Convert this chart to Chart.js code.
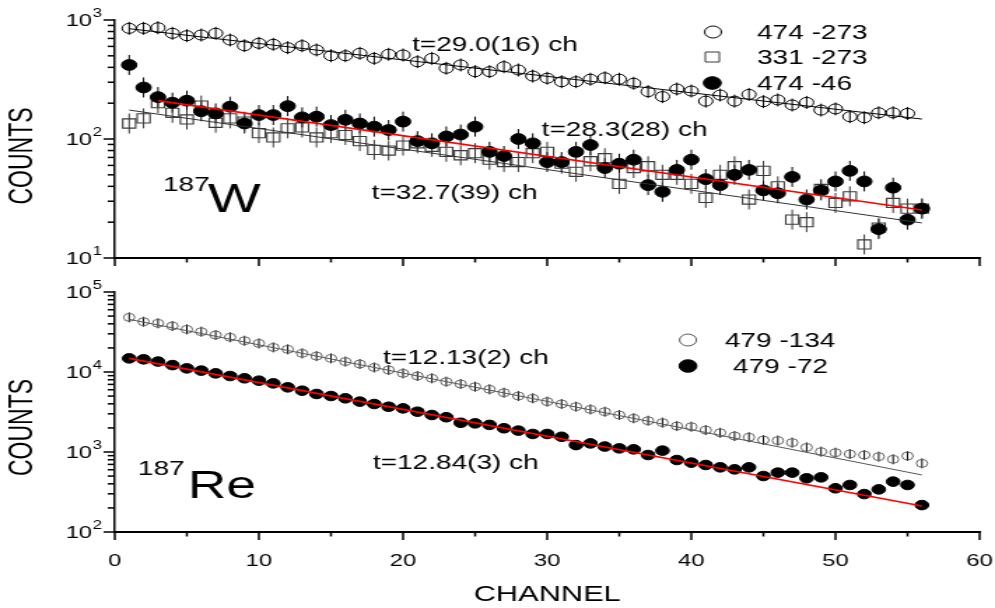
<!DOCTYPE html>
<html>
<head>
<meta charset="utf-8">
<script src="https://cdn.jsdelivr.net/npm/chart.js@4.4.1/dist/chart.umd.min.js"></script>
<style>
  html, body { margin: 0; padding: 0; background: #fff; }
  #wrap { position: relative; width: 995px; height: 608px; }
  canvas { position: absolute; left: 0; }
</style>
</head>
<body>
<div id="wrap">
  <canvas id="topChart" width="711" height="270" style="top:0;width:995px;height:270px"></canvas>
  <canvas id="botChart" width="711" height="338" style="top:270px;width:995px;height:338px"></canvas>
</div>
<script>
// channel numbers (x values)
const channels = [1, 2, 3, 4, 5, 6, 7, 8, 9, 10, 11, 12, 13, 14, 15, 16, 17, 18, 19, 20,
  21, 22, 23, 24, 25, 26, 27, 28, 29, 30, 31, 32, 33, 34, 35, 36, 37, 38, 39, 40,
  41, 42, 43, 44, 45, 46, 47, 48, 49, 50, 51, 52, 53, 54, 55, 56];

// 187W panel
const w474_273 = [851, 851, 861, 773, 738, 748, 773, 679, 608, 637, 625, 585, 608, 560, 501, 501, 525, 476, 515, 508,
  446, 476, 393, 419, 368, 368, 405, 380, 338, 324, 303, 303, 318, 327, 318, 294, 250, 227, 263, 253,
  208, 234, 208, 237, 206, 213, 193, 203, 175, 179, 154, 151, 166, 166, 164];
const w331_273 = [135, 149, 200, 166, 146, 191, 137, 149, 140, 112, 103, 123, 125, 103, 112, 108, 96, 81, 80, 88,
  92, 86, 78, 73, 76, 67, 64, 64, 76, 78, 62, 53, 65, 69, 42, 57, 59, 50, 50, 42,
  32, 50, 59, 31, 54, 40, 21, 20, 38, 29, 33, 13, 18, 29, 26, 26];
const w474_46 = [419, 271, 225, 202, 210, 171, 164, 187, 135, 159, 159, 189, 152, 154, 131, 145, 135, 127, 119, 140,
  96, 92, 105, 109, 127, 78, 72, 100, 92, 64, 64, 78, 89, 57, 62, 67, 41, 36, 55, 67,
  46, 41, 50, 55, 37, 35, 48, 31, 37, 44, 54, 44, 17.5, 39, 21, 26];

// 187Re panel
const re479_134 = [48200, 42500, 40600, 37600, 34100, 31900, 29000, 27200, 24600, 22800, 20300, 19200, 17100, 15800, 14800, 13500, 12600, 11400, 10600, 9620,
  8910, 8340, 7570, 7080, 6550, 6080, 5510, 5010, 4690, 4260, 3980, 3690, 3410, 3190, 2900, 2640, 2460, 2330, 2110, 2070,
  1880, 1740, 1585, 1530, 1410, 1390, 1310, 1140, 1010, 980, 944, 917, 875, 810, 891, 721];
const re479_72 = [14800, 14400, 13500, 12200, 11100, 10400, 9620, 8910, 8340, 7790, 7210, 6430, 5840, 5310, 5010, 4690, 4260, 3980, 3680, 3510,
  3190, 2900, 2720, 2320, 2280, 2180, 1980, 1850, 1680, 1680, 1550, 1220, 1280, 1170, 1110, 1080, 917, 1040, 794, 736,
  688, 643, 607, 643, 501, 552, 552, 469, 482, 352, 387, 298, 341, 426, 387, 217];

// fitted decay lines (end points)
const fitX = [1, 56];
const fitW474_273 = [845, 147];
const fitW331_273 = [175, 19.7];
const fitW474_46X = [3, 56];
const fitW474_46 = [210, 25.3];
const fitRe479_134 = [45500, 516];
const fitRe479_72 = [14800, 211];

// ticks
const xMajorTicks = [0, 10, 20, 30, 40, 50, 60];
const xMinorTicks = [5, 15, 25, 35, 45, 55];
const topDecades = [1, 2, 3];
const botDecades = [2, 3, 4, 5];
const minorMultiples = [2, 3, 4, 5, 6, 7, 8, 9];

const FONT = '"Liberation Sans", Arial, sans-serif';

const pts = (ys, xs) => ys.map((y, i) => ({x: (xs || channels)[i], y: y}));

const errorBars = {
  id: 'errorBars',
  beforeDatasetsDraw(chart) {
    const ctx = chart.ctx;
    chart.data.datasets.forEach((ds, i) => {
      if (!ds.errHalf) return;
      const meta = chart.getDatasetMeta(i);
      ctx.save();
      ctx.strokeStyle = ds.errColor || '#000';
      ctx.lineWidth = 1;
      meta.data.forEach(p => {
        ctx.beginPath();
        ctx.moveTo(p.x, p.y - ds.errHalf);
        ctx.lineTo(p.x, p.y + ds.errHalf);
        ctx.stroke();
      });
      ctx.restore();
    });
  }
};

function panelDeco(cfg) {
  return {
    id: 'panelDeco',
    afterDraw(chart) {
      const ctx = chart.ctx;
      const a = chart.chartArea;
      const xs = chart.scales.x, ys = chart.scales.y;
      ctx.save();
      ctx.strokeStyle = '#000';
      ctx.fillStyle = '#000';
      ctx.lineWidth = 1.5;
      const seg = (x1, y1, x2, y2) => { ctx.beginPath(); ctx.moveTo(x1, y1); ctx.lineTo(x2, y2); ctx.stroke(); };

      xMajorTicks.forEach(v => { const p = xs.getPixelForValue(v); seg(p, a.bottom, p, a.bottom + 8); });
      xMinorTicks.forEach(v => { const p = xs.getPixelForValue(v); seg(p, a.bottom, p, a.bottom + 4.5); });

      cfg.decades.forEach((e, k) => {
        const p = ys.getPixelForValue(Math.pow(10, e));
        seg(a.left - 8, p, a.left, p);
        if (k < cfg.decades.length - 1) {
          minorMultiples.forEach(m => {
            const q = ys.getPixelForValue(m * Math.pow(10, e));
            seg(a.left - 5, q, a.left, q);
          });
        }
        ctx.font = '12px ' + FONT;
        const ew = ctx.measureText(String(e)).width;
        const right = a.left - 9;
        ctx.textBaseline = 'middle';
        ctx.textAlign = 'left';
        ctx.fillText(String(e), right - ew, p - 6);
        ctx.font = '17px ' + FONT;
        ctx.textAlign = 'right';
        ctx.fillText('10', right - ew - 0.5, p + 1);
      });

      // axis title
      ctx.save();
      ctx.translate(cfg.yTitle.x, cfg.yTitle.y);
      ctx.rotate(-Math.PI / 2);
      ctx.font = '23px ' + FONT;
      ctx.textAlign = 'center';
      ctx.textBaseline = 'middle';
      ctx.fillText('COUNTS', 0, 0);
      ctx.restore();

      // half-life notes
      ctx.textAlign = 'left';
      ctx.textBaseline = 'middle';
      ctx.font = '20px ' + FONT;
      cfg.notes.forEach(n => ctx.fillText(n.text, n.x, n.y));

      // nuclide label
      const nu = cfg.nuclide;
      ctx.textBaseline = 'alphabetic';
      ctx.font = nu.supSize + 'px ' + FONT;
      ctx.fillText('187', nu.supX, nu.supBase);
      ctx.font = nu.size + 'px ' + FONT;
      ctx.fillText(nu.text, nu.x, nu.base);

      // legend
      ctx.textBaseline = 'middle';
      ctx.font = '20px ' + FONT;
      cfg.legend.forEach(l => {
        ctx.lineWidth = 1;
        ctx.strokeStyle = l.color || '#000';
        ctx.beginPath();
        if (l.shape === 'rect') {
          ctx.rect(l.mx - l.r, l.my - l.r, l.r * 2, l.r * 2);
        } else {
          ctx.arc(l.mx, l.my, l.r, 0, Math.PI * 2);
        }
        if (l.fill) { ctx.fillStyle = '#000'; ctx.fill(); }
        ctx.stroke();
        ctx.fillStyle = '#000';
        ctx.fillText(l.text, l.tx, l.my + 1);
      });
      ctx.restore();
    }
  };
}

function baseOptions(yMin, yMax, xHeight, padTop, showXLabels) {
  return {
    responsive: false,
    animation: false,
    devicePixelRatio: 1,
    events: [],
    layout: {padding: {top: padTop, right: 11, bottom: 0, left: 0}},
    plugins: {legend: {display: false}, tooltip: {enabled: false}},
    scales: {
      x: {
        type: 'linear', position: 'bottom', min: 0, max: 60,
        // tick marks are drawn by panelDeco; tickLength only reserves room above the labels
        grid: {display: false, drawTicks: true, tickLength: 19},
        border: {display: true, color: '#000', width: 2},
        ticks: {display: showXLabels, stepSize: 10, padding: 0, color: '#000', font: {family: FONT, size: 17}},
        title: {display: showXLabels, text: 'CHANNEL', color: '#000', font: {family: FONT, size: 22}, padding: {top: 0, bottom: 0}},
        afterFit: s => { s.height = xHeight; }
      },
      y: {
        type: 'logarithmic', position: 'left', min: yMin, max: yMax,
        grid: {display: false, drawTicks: false},
        border: {display: true, color: '#000', width: 1.5},
        ticks: {display: false},
        afterFit: s => { s.width = 82; }
      }
    }
  };
}

const none = 'rgba(0,0,0,0)';

new Chart(document.getElementById('topChart'), {
  type: 'scatter',
  data: {
    datasets: [
      {label: 'fit 474-273', data: pts(fitW474_273, fitX), showLine: true, pointRadius: 0, borderColor: '#000', borderWidth: 1, order: 0},
      {label: 'fit 331-273', data: pts(fitW331_273, fitX), showLine: true, pointRadius: 0, borderColor: '#333', borderWidth: 1, order: 0},
      {label: 'fit 474-46', data: pts(fitW474_46, fitW474_46X), showLine: true, pointRadius: 0, borderColor: '#ff0000', borderWidth: 1.6, order: 0},
      {label: '474 -46', data: pts(w474_46), pointStyle: 'circle', pointRadius: 5.4, backgroundColor: '#000', borderColor: '#000', borderWidth: 1, errHalf: 10, order: 1},
      {label: '331 -273', data: pts(w331_273), pointStyle: 'rect', pointRadius: 6.5, backgroundColor: none, borderColor: '#3a3a3a', borderWidth: 1.1, errHalf: 10, errColor: '#3a3a3a', order: 2},
      {label: '474 -273', data: pts(w474_273), pointStyle: 'circle', pointRadius: 5, backgroundColor: none, borderColor: '#000', borderWidth: 1, errHalf: 6.5, order: 3}
    ]
  },
  options: baseOptions(10, 1000, 12, 20, false),
  plugins: [errorBars, panelDeco({
    decades: topDecades,
    yTitle: {x: 16.5, y: 156},
    notes: [
      {text: 't=29.0(16) ch', x: 294.4, y: 45},
      {text: 't=28.3(28) ch', x: 387.1, y: 130},
      {text: 't=32.7(39) ch', x: 265.6, y: 193}
    ],
    nuclide: {supX: 116.5, supBase: 191, supSize: 20, text: 'W', x: 148.6, base: 212, size: 40},
    legend: [
      {shape: 'circle', mx: 509.5, my: 32, r: 6, text: '474 -273', tx: 541},
      {shape: 'rect', mx: 509, my: 57, r: 5, text: '331 -273', tx: 541, color: '#3a3a3a'},
      {shape: 'circle', fill: true, mx: 509, my: 83, r: 6.3, text: '474 -46', tx: 541}
    ]
  })]
});

new Chart(document.getElementById('botChart'), {
  type: 'scatter',
  data: {
    datasets: [
      {label: 'fit 479-134', data: pts(fitRe479_134, fitX), showLine: true, pointRadius: 0, borderColor: '#555', borderWidth: 1, order: 0},
      {label: 'fit 479-72', data: pts(fitRe479_72, fitX), showLine: true, pointRadius: 0, borderColor: '#ff0000', borderWidth: 1.6, order: 0},
      {label: '479 -72', data: pts(re479_72), pointStyle: 'circle', pointRadius: 4.8, backgroundColor: '#000', borderColor: '#000', borderWidth: 1, order: 1},
      {label: '479 -134', data: pts(re479_134), pointStyle: 'circle', pointRadius: 4, backgroundColor: none, borderColor: '#666', borderWidth: 1, errHalf: 5, order: 2}
    ]
  },
  options: baseOptions(100, 100000, 76, 22, true),
  plugins: [errorBars, panelDeco({
    decades: botDecades,
    yTitle: {x: 16.5, y: 157.5},
    notes: [
      {text: 't=12.13(2) ch', x: 273.7, y: 88},
      {text: 't=12.84(3) ch', x: 266.5, y: 193}
    ],
    nuclide: {supX: 98.6, supBase: 205, supSize: 20, text: 'Re', x: 134.3, base: 228, size: 38},
    legend: [
      {shape: 'circle', mx: 491.6, my: 70, r: 6, text: '479 -134', tx: 518, color: '#555'},
      {shape: 'circle', fill: true, mx: 491.6, my: 96, r: 6.3, text: '479 -72', tx: 523.8}
    ]
  })]
});
</script>
</body>
</html>
